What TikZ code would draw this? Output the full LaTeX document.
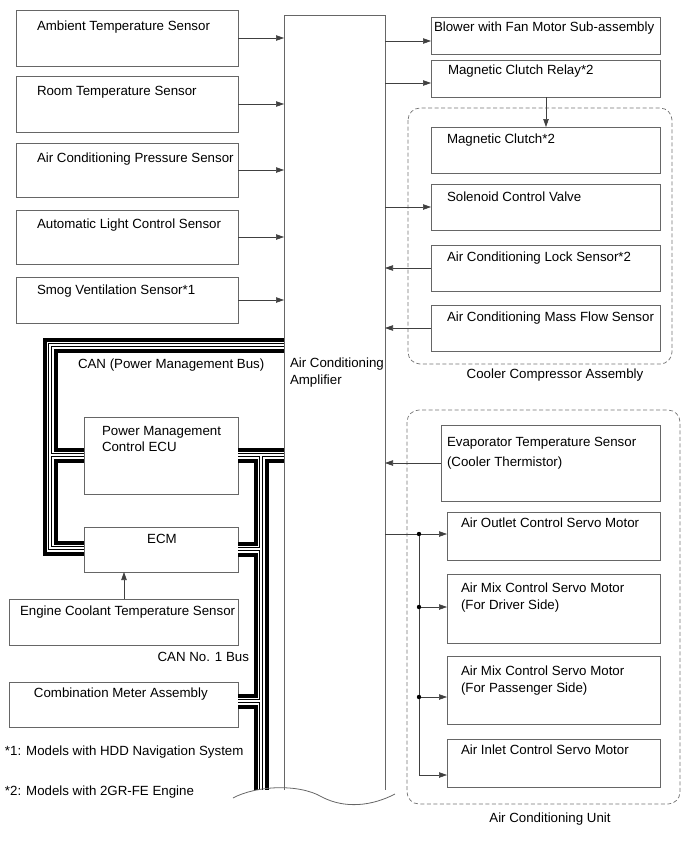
\documentclass[tikz,border=0pt]{standalone}
\usepackage{fontspec}
\setmainfont{Liberation Sans}
\usetikzlibrary{arrows.meta}
\begin{document}
\begin{tikzpicture}[x=1pt,y=-1pt,
  box/.style={draw=black!60, line width=0.8pt, fill=white, anchor=north west, inner sep=0pt, outer sep=0pt},
  edge/.style={draw=black!60, line width=0.8pt},
  txt/.style={anchor=base west, inner sep=0pt, outer sep=0pt, font=\fontsize{13.3}{16}\selectfont, text=black},
  ctxt/.style={txt, anchor=base},
  arr/.style={draw=black!75, line width=0.6pt, -{Triangle[length=8pt,width=5.5pt]}},
  wire/.style={draw=black!75, line width=0.6pt},
  grp/.style={draw=black!55, dash pattern=on 4pt off 2.5pt, line width=0.7pt, rounded corners=12pt},
  dot/.style={circle, fill=black, inner sep=0pt, minimum size=4.4pt},
  busl/.style={line join=miter, line cap=butt}
]
\useasboundingbox (0,0) rectangle (691,855);

% ---------- amplifier ----------
\node[anchor=north west, inner sep=0pt, outer sep=0pt, minimum width=101pt, minimum height=775pt] (amp) at (284,15) {};

% ---------- left sensors ----------
\node[box, minimum width=222pt, minimum height=56pt] (amb) at (16,10) {};
\node[box, minimum width=222pt, minimum height=56pt] (room) at (16,76) {};
\node[box, minimum width=222pt, minimum height=54pt] (pres) at (16,143) {};
\node[box, minimum width=222pt, minimum height=54pt] (alc) at (16,210) {};
\node[box, minimum width=222pt, minimum height=46pt] (smog) at (16,277) {};

\node[txt] (tamb) at (37,30) {Ambient Temperature Sensor};
\node[txt] (troom) at (37,95) {Room Temperature Sensor};
\node[txt] (tpres) at (37,162) {Air Conditioning Pressure Sensor};
\node[txt] (talc) at (37,228) {Automatic Light Control Sensor};
\node[txt] (tsmog) at (37,294) {Smog Ventilation Sensor*1};

% ---------- CAN bus ----------
\coordinate (cTop) at (50,345);
\coordinate (cMid) at (50,455);
\coordinate (cBot) at (50,548);
\coordinate (cR) at (261,455);
\coordinate (cE) at (261,549);
\coordinate (cC) at (261,701);
\coordinate (cEnd) at (261,790);

\node[box, minimum width=154pt, minimum height=77pt] (pmc) at (84,417) {};
\node[box, minimum width=154pt, minimum height=45pt] (ecm) at (84,527) {};
\node[box, minimum width=229pt, minimum height=46pt] (ect) at (9,599) {};
\node[box, minimum width=229pt, minimum height=45pt] (cm) at (9,682) {};

\foreach \w/\c in {15pt/black, 7pt/white, 4pt/black, 2pt/white}{
  \draw[busl, line width=\w, \c] (amp.west |- cTop) -- (cTop) -- (cBot) -- (ecm.west |- cBot);
  \draw[busl, line width=\w, \c] (cMid) -- (pmc.west |- cMid);
  \draw[busl, line width=\w, \c] (pmc.east |- cR) -- (amp.west |- cR);
  \draw[busl, line width=\w, \c] (cR) -- (cEnd);
  \draw[busl, line width=\w, \c] (cE) -- (ecm.east |- cE);
  \draw[busl, line width=\w, \c] (cC) -- (cm.east |- cC);
}

\node[txt] (tcan) at (78,368) {CAN (Power Management Bus)};
\node[txt] (tpmc1) at (102,435) {Power Management};
\node[txt] (tpmc2) at (102,451) {Control ECU};
\node[ctxt] (tecm) at (162,543) {ECM};
\node[txt] (tect) at (20,615) {Engine Coolant Temperature Sensor};
\node[txt, anchor=base east] (tcan1) at (249,661) {CAN No. 1 Bus};
\node[txt] (tcm) at (34,697) {Combination Meter Assembly};
\node[txt] (tn1) at (5,755) {*1: Models with HDD Navigation System};
\node[txt] (tn2) at (5,795) {*2: Models with 2GR-FE Engine};

\coordinate (xe) at (124,0);
\draw[arr] (ect.north -| xe) -- (ecm.south -| xe);

% amplifier outline and break
\draw[edge] (amp.south west) -- (amp.north west) -- (amp.north east) -- (amp.south east);
\draw[edge] (233,798) .. controls (255,786) and (298,783) .. (322,797)
             .. controls (345,809) and (372,806) .. (395,794);
\node[txt] (tamp1) at (290,367) {Air Conditioning};
\node[txt] (tamp2) at (290,384) {Amplifier};

\foreach \n in {amb,room,pres,alc,smog}{
  \draw[arr] (\n.east) -- (\n.east -| amp.west);
}

% ---------- right side ----------
\node[box, minimum width=229pt, minimum height=37pt] (blow) at (431,17) {};
\node[box, minimum width=229pt, minimum height=37pt] (relay) at (431,60) {};
\node[txt] (tblow) at (434,31) {Blower with Fan Motor Sub-assembly};
\node[txt] (trelay) at (448,74) {Magnetic Clutch Relay*2};

\draw[grp] (408,108) rectangle (672,364);
\node[ctxt] (tcca) at (555,378) {Cooler Compressor Assembly};

\node[box, minimum width=229pt, minimum height=46pt] (clutch) at (431,127) {};
\node[box, minimum width=229pt, minimum height=46pt] (sol) at (431,184) {};
\node[box, minimum width=229pt, minimum height=46pt] (lock) at (431,245) {};
\node[box, minimum width=229pt, minimum height=46pt] (mass) at (431,305) {};
\node[txt] (tclutch) at (447,143) {Magnetic Clutch*2};
\node[txt] (tsol) at (447,201) {Solenoid Control Valve};
\node[txt] (tlock) at (447,261) {Air Conditioning Lock Sensor*2};
\node[txt] (tmass) at (447,321) {Air Conditioning Mass Flow Sensor};

\coordinate (yb) at (0,41);
\coordinate (yr) at (0,83);
\coordinate (xr) at (546,0);
\draw[arr] (amp.east |- yb) -- (blow.west |- yb);
\draw[arr] (amp.east |- yr) -- (relay.west |- yr);
\draw[arr] (relay.south -| xr) -- (clutch.north -| xr);
\draw[arr] (sol.west -| amp.east) -- (sol.west);
\draw[arr] (lock.west) -- (lock.west -| amp.east);
\draw[arr] (mass.west) -- (mass.west -| amp.east);

\draw[grp] (407,410) rectangle (680,804);
\node[ctxt] (tacu) at (550,822) {Air Conditioning Unit};

\node[box, minimum width=219pt, minimum height=76pt] (evap) at (441,425) {};
\node[box, minimum width=213pt, minimum height=48pt] (aout) at (447,512) {};
\node[box, minimum width=213pt, minimum height=69pt] (amd) at (447,574) {};
\node[box, minimum width=213pt, minimum height=68pt] (amp2) at (447,656) {};
\node[box, minimum width=213pt, minimum height=48pt] (ain) at (447,739) {};

\node[txt] (tev1) at (447,446) {Evaporator Temperature Sensor};
\node[txt] (tev2) at (447,466) {(Cooler Thermistor)};
\node[txt] (taout) at (461,527) {Air Outlet Control Servo Motor};
\node[txt] (tamd1) at (461,592) {Air Mix Control Servo Motor};
\node[txt] (tamd2) at (461,609) {(For Driver Side)};
\node[txt] (tamp21) at (461,675) {Air Mix Control Servo Motor};
\node[txt] (tamp22) at (461,692) {(For Passenger Side)};
\node[txt] (tain) at (461,754) {Air Inlet Control Servo Motor};

\draw[arr] (evap.west) -- (evap.west -| amp.east);

\node[dot] (d1) at (419,534) {};
\node[dot] (d2) at (419,607) {};
\node[dot] (d3) at (419,697) {};
\coordinate (d4) at (419,775);
\draw[wire] (amp.east |- d1) -- (d1);
\draw[wire] (d1) -- (d2) -- (d3) -- (d4);
\draw[arr] (d1) -- (aout.west |- d1);
\draw[arr] (d2) -- (amd.west |- d2);
\draw[arr] (d3) -- (amp2.west |- d3);
\draw[arr] (d4) -- (ain.west |- d4);
\end{tikzpicture}
\end{document}
